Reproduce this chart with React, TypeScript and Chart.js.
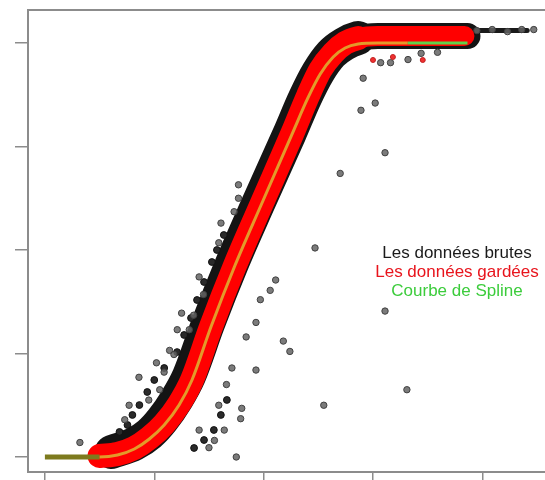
import React, { useEffect, useRef } from "react";
import { Chart, registerables } from "chart.js";

Chart.register(...registerables);

// Fitted spline ("Courbe de Spline")
const splineX = [0, 0.5, 0.664, 0.818, 0.955, 1.091, 1.227, 1.345, 1.518, 1.736, 1.973, 2.264, 2.405, 2.518, 2.636, 2.745, 2.864, 3.045, 3.318, 3.864];
const splineY = [0, 0, 0.019, 0.077, 0.174, 0.309, 0.502, 0.744, 1.256, 1.845, 2.425, 3.13, 3.469, 3.7, 3.865, 3.952, 3.99, 4.0, 4.0, 4.0];

// Centre line of the retained observations ("Les données gardées")
const keptX = [0.5, 0.664, 0.818, 0.955, 1.091, 1.227, 1.345, 1.518, 1.736, 1.973, 2.264, 2.405, 2.518, 2.636, 2.745, 2.864, 3.045, 3.836];
const keptY = [0.01, 0.029, 0.087, 0.184, 0.319, 0.512, 0.744, 1.256, 1.845, 2.425, 3.13, 3.488, 3.739, 3.903, 4.0, 4.048, 4.068, 4.068];

// A few retained observations lying just under the upper plateau
const keptLooseX = [3.0, 3.182, 3.455];
const keptLooseY = [3.836, 3.865, 3.836];

// Centre line of the dense raw observations ("Les données brutes")
const rawX = [0.609, 0.818, 0.955, 1.073, 1.2, 1.318, 1.491, 1.709, 1.945, 2.236, 2.378, 2.5, 2.618, 2.736, 2.864, 3.045, 3.864];
const rawY = [0.048, 0.126, 0.222, 0.357, 0.551, 0.783, 1.285, 1.865, 2.435, 3.121, 3.469, 3.72, 3.894, 3.99, 4.048, 4.068, 4.068];

// Saturated raw observations past the end of the retained range
const tailX = [3.82, 4.41];
const tailY = [4.12, 4.12];

// Scattered raw observations away from the main band
const outlierX = [
  0.32, 2.55, 3.31, 3.11, 3.11, 2.7, 2.47, 2.18, 2.24, 1.8, 1.79, 1.59, 1.5, 1.75, 1.41,
  2.11, 2.06, 1.93, 1.84, 1.93, 1.71, 1.77, 1.77, 1.73, 1.61, 1.59, 1.41, 1.25, 1.21, 1.14,
  1.02, 0.86, 2.91, 2.89, 3.02, 3.07, 3.16, 3.32, 3.44, 3.59, 0.95, 1.05, 1.09, 1.18, 1.32,
  1.36, 1.45, 0.77, 0.73, 1.64, 1.55, 1.66, 1.97, 3.95, 4.09, 4.23, 4.36, 4.47,
];
const outlierY = [
  0.14, 0.5, 0.65, 1.41, 2.94, 2.74, 2.02, 1.12, 1.02, 0.47, 0.37, 0.5, 0.09, 0.0, 0.26,
  1.71, 1.61, 1.3, 1.16, 0.84, 0.86, 2.63, 2.5, 2.37, 2.26, 2.07, 1.74, 1.39, 1.23, 1.03,
  0.91, 0.77, 3.66, 3.35, 3.42, 3.81, 3.81, 3.84, 3.9, 3.91, 0.55, 0.65, 0.82, 0.99, 1.23,
  1.37, 1.57, 0.5, 0.36, 0.26, 0.16, 0.7, 1.52, 4.12, 4.13, 4.11, 4.13, 4.13,
];

// Raw observations hugging the edges of the dense band
const edgeX = [1.636, 1.573, 1.527, 1.455, 1.391, 1.336, 1.273, 1.209, 1.091, 1.0, 0.936, 0.864, 0.8, 0.755, 0.682, 1.664, 1.609, 1.545, 1.455, 1.364];
const edgeY = [2.145, 2.0, 1.884, 1.691, 1.517, 1.343, 1.179, 1.014, 0.86, 0.744, 0.628, 0.502, 0.406, 0.309, 0.242, 0.551, 0.406, 0.261, 0.164, 0.087];

const xTicks = [0, 1, 2, 3, 4];
const yTicks = [0, 1, 2, 3, 4];

const legendLabels = ["Les données brutes", "Les données gardées", "Courbe de Spline"];
const legendColors = ["#1a1a1a", "#e8141c", "#3ccc3c"];

const AXIS_COLOR = "#8c8c8c";

const toPoints = (xs: number[], ys: number[]) => xs.map((x, i) => ({ x, y: ys[i] }));

// Draws the box around the plotting area
const framePlugin = {
  id: "frame",
  afterDraw(chart: any) {
    const { ctx, chartArea } = chart;
    ctx.save();
    ctx.strokeStyle = AXIS_COLOR;
    ctx.lineWidth = 2;
    ctx.strokeRect(chartArea.left, chartArea.top, chartArea.right - chartArea.left, chartArea.bottom - chartArea.top);
    ctx.restore();
  },
};

export default function App() {
  const canvasRef = useRef<HTMLCanvasElement | null>(null);

  useEffect(() => {
    if (!canvasRef.current) return;
    const chart = new Chart(canvasRef.current, {
      type: "scatter",
      data: {
        datasets: [
          {
            label: "Courbe de Spline",
            data: toPoints(splineX, splineY),
            showLine: true,
            pointRadius: 0,
            cubicInterpolationMode: "monotone",
            borderColor: "#e39a2a",
            borderWidth: 3,
            segment: {
              borderColor: (c: any) =>
                c.p1.parsed.x <= 0.5 ? "#7d7a1e" : c.p0.parsed.x >= 3.3 ? "#5fd14a" : "#e39a2a",
              borderWidth: (c: any) => (c.p1.parsed.x <= 0.5 ? 5 : 3),
            },
            order: 0,
          } as any,
          {
            label: "Les données gardées",
            data: toPoints(keptX, keptY),
            showLine: true,
            pointRadius: 0,
            cubicInterpolationMode: "monotone",
            borderColor: "#ff0000",
            borderWidth: 24,
            segment: {
              borderWidth: (c: any) => (c.p0.parsed.x >= 2.85 ? 20 : 24),
            },
            borderCapStyle: "round",
            borderJoinStyle: "round",
            order: 1,
          } as any,
          {
            label: "Les données gardées",
            data: toPoints(keptLooseX, keptLooseY),
            pointRadius: 2.5,
            pointBackgroundColor: "#f03030",
            pointBorderColor: "#c02020",
            pointBorderWidth: 1,
            order: 2,
          } as any,
          {
            label: "Les données brutes",
            data: toPoints(outlierX, outlierY),
            pointRadius: 3.2,
            pointBackgroundColor: "rgba(100,100,100,0.85)",
            pointBorderColor: "#404040",
            pointBorderWidth: 1,
            order: 3,
          } as any,
          {
            label: "Les données brutes",
            data: toPoints(edgeX, edgeY),
            pointRadius: 3.4,
            pointBackgroundColor: "#2a2a2a",
            pointBorderColor: "#111111",
            pointBorderWidth: 1,
            order: 4,
          } as any,
          {
            label: "Les données brutes",
            data: toPoints(tailX, tailY),
            showLine: true,
            pointRadius: 0,
            borderColor: "#1a1a1a",
            borderWidth: 5,
            borderCapStyle: "round",
            order: 5,
          } as any,
          {
            label: "Les données brutes",
            data: toPoints(rawX, rawY),
            showLine: true,
            pointRadius: 0,
            cubicInterpolationMode: "monotone",
            borderColor: "#141414",
            borderWidth: 34,
            segment: {
              borderWidth: (c: any) => (c.p0.parsed.x >= 2.85 ? 26 : 34),
            },
            borderCapStyle: "round",
            borderJoinStyle: "round",
            order: 6,
          } as any,
        ],
      },
      options: {
        animation: false,
        responsive: false,
        devicePixelRatio: 1,
        layout: { padding: { top: 10, left: 15, right: 2, bottom: 0 } },
        plugins: { legend: { display: false }, tooltip: { enabled: false }, title: { display: false } },
        scales: {
          x: {
            type: "linear",
            min: -0.1545,
            max: 4.591,
            afterBuildTicks: (axis: any) => {
              axis.ticks = xTicks.map((v) => ({ value: v }));
            },
            ticks: { display: false },
            grid: { drawOnChartArea: false, drawTicks: true, tickLength: 8, color: AXIS_COLOR, lineWidth: 1.5 },
            border: { display: true, color: AXIS_COLOR, width: 2 },
          },
          y: {
            type: "linear",
            min: -0.145,
            max: 4.319,
            afterBuildTicks: (axis: any) => {
              axis.ticks = yTicks.map((v) => ({ value: v }));
            },
            ticks: { display: false },
            grid: { drawOnChartArea: false, drawTicks: true, tickLength: 13, color: AXIS_COLOR, lineWidth: 1.5 },
            border: { display: true, color: AXIS_COLOR, width: 2 },
          },
        },
      } as any,
      plugins: [framePlugin],
    });
    return () => chart.destroy();
  }, []);

  return (
    <div
      style={{
        position: "fixed",
        left: 0,
        top: 0,
        width: 545,
        height: 480,
        overflow: "hidden",
        background: "#ffffff",
      }}
    >
      <canvas ref={canvasRef} width={552} height={480} style={{ display: "block" }} />
      <div
        style={{
          position: "absolute",
          left: 357,
          top: 243,
          width: 200,
          textAlign: "center",
          fontFamily: "'Liberation Sans', Arial, sans-serif",
          fontSize: 17,
          lineHeight: "19px",
        }}
      >
        {legendLabels.map((t, i) => (
          <div key={t} style={{ color: legendColors[i] }}>
            {t}
          </div>
        ))}
      </div>
    </div>
  );
}
